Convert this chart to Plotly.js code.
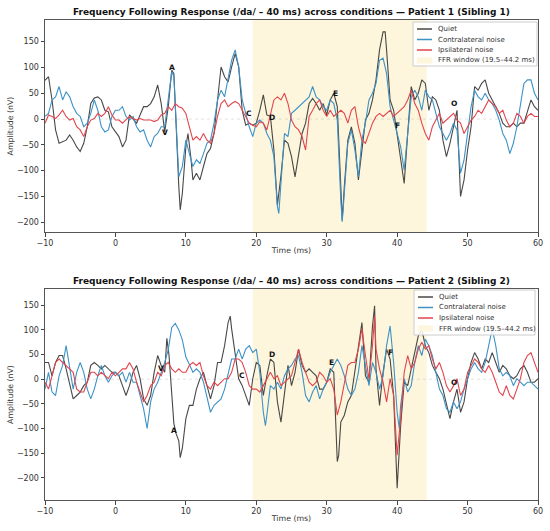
<!DOCTYPE html>
<html>
<head>
<meta charset="utf-8">
<script src="https://cdn.plot.ly/plotly-3.0.1.min.js"></script>
<style>html,body{margin:0;padding:0;background:#fff}#chart{width:550px;height:531px}</style>
</head>
<body>
<div id="chart"></div>
<script>
// ---------- Patient 1 ----------
const p1QuietT = [-10,-9.5,-9,-8.5,-8,-7.5,-7,-6.5,-6,-5.5,-5,-4.5,-4,-3.5,-3,-2.5,-2,-1.5,-1,-0.5,0,0.5,1,1.5,2,2.5,3,3.5,4,4.5,5,5.5,6,6.5,7,7.5,8,8.3,8.5,9,9.2,9.5,10,10.3,10.7,11,11.5,12,12.5,13,13.5,14,14.5,15,15.5,16,16.5,17,17.5,18,18.5,19,19.5,20,20.5,21,21.5,22,22.5,23,23.5,24,24.5,25,25.5,26,26.5,27,27.5,28,28.5,29,29.5,30,30.5,31,31.5,32,32.2,32.5,33,33.5,34,34.5,35,35.5,36,36.5,37,37.5,38,38.3,38.5,39,39.5,40,40.5,41,41.5,42,42.5,43,43.5,44,44.5,45,45.5,46,46.5,47,47.5,48,48.5,49,49.5,50,50.5,51,51.5,52,52.5,53,53.5,54,54.5,55,55.5,56,56.5,57,57.5,58,58.5,59,59.5,60];
const p1QuietV = [75,82,37,-21,-47,-44,-41,-31,-41,-54,-63,-47,-15,30,41,43,37,17,14,-15,-25,-34,-54,-41,8,1,-8,8,24,24,30,43,66,30,-25,24,95,88,17,-131,-176,-144,-54,-28,-73,-118,-105,-118,-92,-67,-57,-28,37,101,82,72,101,127,101,17,-12,-8,-12,-8,17,47,8,5,-60,-167,-110,-41,-47,-73,-112,-73,-28,-8,30,40,30,17,30,8,37,50,24,-131,-196,-131,-41,-15,-47,-118,-60,-2,11,37,76,134,169,169,134,37,17,-28,-73,-125,-28,63,37,50,76,69,17,43,37,17,-41,-73,-47,-15,17,-150,-118,-60,-15,63,56,69,76,50,37,24,11,-8,-15,-15,-8,-15,-8,-8,17,37,24,17];

const p1ContraT = [-10,-9.5,-9,-8.5,-8,-7.5,-7,-6.5,-6,-5.5,-5,-4.5,-4,-3.5,-3,-2.5,-2,-1.5,-1,-0.5,0,0.5,1,1.5,2,2.5,3,3.5,4,4.5,5,5.5,6,6.5,7,7.5,8,8.3,8.6,9,9.5,10,10.5,11,11.5,12,12.5,13,13.5,14,14.5,15,15.5,16,16.5,17,17.5,18,18.5,19,19.5,20,20.5,21,21.5,22,22.5,23,23.2,23.5,24,24.5,25,25.5,26,26.5,27,27.5,28,28.5,29,29.5,30,30.5,31,31.5,32,32.2,32.5,33,33.5,34,34.5,35,35.5,36,36.5,37,37.5,38,38.5,39,39.5,40,40.5,41,41.5,42,42.5,43,43.5,44,44.5,45,45.5,46,46.5,47,47.5,48,48.5,49,49.5,50,50.5,51,51.5,52,52.5,53,53.5,54,54.5,55,55.5,56,56.5,57,57.5,58,58.5,59,59.5,60];
const p1ContraV = [5,11,37,43,63,37,53,43,24,11,5,-15,-8,11,37,17,-15,-25,-21,5,17,17,24,5,-2,5,-15,-25,-21,-41,-54,-34,-28,-15,-15,37,92,82,-15,-112,-92,-41,-67,-92,-79,-86,-67,-47,-41,-8,37,56,43,76,114,134,101,37,11,-15,-34,-8,-2,-8,-28,-41,-73,-170,-183,-131,-28,-34,11,17,24,30,37,43,63,43,37,24,17,37,30,-2,-157,-199,-144,-47,-21,-60,-112,-41,-8,37,50,69,114,118,88,24,-2,-28,-54,-99,-28,43,56,43,17,56,43,37,11,-15,-28,-41,-28,-8,-21,-105,-79,-28,24,56,43,37,50,37,30,17,-2,-28,-41,-67,-47,-15,24,69,76,76,50,37];

const p1IpsiT = [-10,-9.5,-9,-8.5,-8,-7.5,-7,-6.5,-6,-5.5,-5,-4.5,-4,-3.5,-3,-2.5,-2,-1.5,-1,-0.5,0,0.5,1,1.5,2,2.5,3,3.5,4,4.5,5,5.5,6,6.5,7,7.5,8,8.5,9,9.5,10,10.5,11,11.5,12,12.5,13,13.5,14,14.5,15,15.5,16,16.5,17,17.5,18,18.5,19,19.5,20,20.5,21,21.5,22,22.5,23,23.5,24,24.5,25,25.5,26,26.5,27,27.5,28,28.5,29,29.5,30,30.5,31,31.5,32,32.5,33,33.5,34,34.5,35,35.5,36,36.5,37,37.5,38,38.5,39,39.5,40,40.5,41,41.5,42,42.5,43,43.5,44,44.5,45,45.5,46,46.5,47,47.5,48,48.5,49,49.5,50,50.5,51,51.5,52,52.5,53,53.5,54,54.5,55,55.5,56,56.5,57,57.5,58,58.5,59,59.5,60];
const p1IpsiV = [-8,8,5,1,8,17,5,-2,1,-15,-21,-34,-15,-2,1,11,5,11,24,8,-2,-2,-8,-2,5,1,-2,1,-2,-2,-2,-5,-2,8,11,24,17,30,24,21,11,-15,-41,-34,-41,-28,-41,-47,-28,5,30,37,24,30,34,30,17,5,-8,-12,-15,-5,-8,-21,11,37,43,37,50,30,-2,-15,-21,-34,-60,5,17,30,37,17,5,17,5,11,17,11,-8,17,24,-15,-41,-47,-28,-8,5,11,5,11,17,5,11,17,24,37,56,30,17,-8,-28,-41,-15,-2,11,-8,-2,5,11,-2,-8,-28,-15,-2,5,17,11,24,37,30,24,11,17,-2,-15,-8,11,5,-8,5,11,5,5];

const p1LabelText = ["A","V","C","D","E","F","O"];
const p1LabelX = [8.0,7.1,19.0,22.3,31.3,40.1,48.1];
const p1LabelY = [100,-26,10,3,50,-12,31];

// ---------- Patient 2 ----------
const p2QuietT = [-10,-9.5,-9,-8.5,-8,-7.5,-7,-6.5,-6,-5.5,-5,-4.5,-4,-3.5,-3,-2.5,-2,-1.5,-1,-0.5,0,0.5,1,1.5,2,2.5,3,3.5,4,4.5,5,5.5,6,6.5,7,7.3,7.6,8,8.3,8.6,9,9.2,9.5,10,10.5,11,11.5,12,12.5,13,13.5,14,14.5,15,15.5,16,16.3,16.5,17,17.5,18,18.5,19,19.5,20,20.5,21,21.5,22,22.5,23,23.5,24,24.5,25,25.5,26,26.5,27,27.5,28,28.5,29,29.5,30,30.5,31,31.5,31.7,32,32.5,33,33.5,34,34.5,35,35.5,36,36.5,36.8,37,37.5,38,38.5,39,39.5,40,40.5,41,41.5,42,42.5,43,43.5,44,44.5,45,45.5,46,46.5,47,47.5,48,48.5,49,49.5,50,50.5,51,51.5,52,52.5,53,53.5,54,54.5,55,55.5,56,56.5,57,57.5,58,58.5,59,59.5,60];
const p2QuietV = [34,34,7,34,48,48,21,-13,-40,-33,-26,-13,-6,28,34,28,21,28,21,14,14,7,-13,-33,-13,14,28,1,-40,-53,-33,14,48,28,14,83,50,-30,-90,-110,-125,-159,-140,-80,-53,-53,-20,1,14,-13,-40,-13,34,34,68,115,128,102,48,1,-13,-33,-53,1,34,28,-33,7,41,34,-46,-87,-33,28,-13,14,61,28,14,21,14,7,-20,-20,-6,21,14,-167,-154,-87,-73,-46,-33,14,68,115,7,-6,108,149,21,-53,14,61,41,-33,-221,-94,-6,-13,21,54,88,101,68,54,28,14,1,-20,-53,-80,-46,-20,-67,-46,1,34,54,41,21,41,34,54,34,14,28,21,7,1,7,21,28,14,-6,-6,1];

const p2ContraT = [-10,-9.5,-9,-8.5,-8,-7.5,-7,-6.5,-6,-5.5,-5,-4.5,-4,-3.5,-3,-2.5,-2,-1.5,-1,-0.5,0,0.5,1,1.5,2,2.5,3,3.5,4,4.5,5,5.5,6,6.5,7,7.5,8,8.5,9,9.5,10,10.5,11,11.5,12,12.5,13,13.5,14,14.5,15,15.5,16,16.5,17,17.5,18,18.5,19,19.5,20,20.5,21,21.3,21.5,22,22.5,23,23.5,24,24.5,25,25.5,26,26.5,27,27.5,28,28.5,29,29.5,30,30.5,31,31.5,32,32.5,33,33.5,34,34.5,35,35.5,36,36.5,37,37.5,38,38.5,39,39.5,40,40.3,40.5,41,41.5,42,42.5,43,43.5,44,44.5,45,45.5,46,46.5,47,47.5,48,48.5,49,49.5,50,50.5,51,51.5,52,52.5,53,53.5,54,54.5,55,55.5,56,56.5,57,57.5,58,58.5,59,59.5,60];
const p2ContraV = [-20,14,-26,-33,7,28,68,21,-20,14,34,14,-20,-40,-20,7,28,7,-6,7,14,7,14,-6,14,-6,-6,-33,-60,-100,-46,-20,-6,14,34,60,105,113,100,80,45,30,14,21,14,-6,-40,-67,-53,-46,-40,-20,14,41,41,61,41,61,68,54,61,14,-67,-94,-73,-13,-20,-6,-20,7,21,28,41,48,14,-33,-46,-26,-13,-40,-20,-6,14,28,41,28,7,-20,-33,-20,14,68,28,-13,34,14,-20,7,68,108,34,-67,-100,-53,1,-26,-13,34,68,48,81,68,48,14,-20,-33,-60,-67,-46,-60,-46,-20,1,21,34,21,14,34,68,102,68,21,7,14,7,-13,1,-6,-13,-6,-6,-13,-20];

const p2IpsiT = [-10,-9.5,-9,-8.5,-8,-7.5,-7,-6.5,-6,-5.5,-5,-4.5,-4,-3.5,-3,-2.5,-2,-1.5,-1,-0.5,0,0.5,1,1.5,2,2.5,3,3.5,4,4.5,5,5.5,6,6.5,7,7.5,8,8.5,9,9.5,10,10.5,11,11.5,12,12.5,13,13.5,14,14.5,15,15.5,16,16.5,17,17.5,18,18.5,19,19.5,20,20.5,21,21.5,22,22.5,23,23.5,24,24.5,25,25.5,26,26.5,27,27.5,28,28.5,29,29.5,30,30.5,31,31.5,32,32.5,33,33.5,34,34.5,35,35.5,36,36.5,36.8,37,37.5,38,38.5,39,39.5,40,40.5,41,41.5,42,42.5,43,43.5,44,44.5,45,45.5,46,46.5,47,47.5,48,48.5,49,49.5,50,50.5,51,51.5,52,52.5,53,53.5,54,54.5,55,55.5,56,56.5,57,57.5,58,58.5,59,59.5,60];
const p2IpsiV = [-6,-20,7,34,41,34,28,21,14,-20,-26,-26,-6,14,14,7,14,7,1,14,7,14,21,21,34,21,-6,-26,-46,-33,-13,-6,14,7,28,34,21,14,21,14,14,28,34,28,34,7,-13,-20,-6,-13,-6,1,1,14,41,41,34,14,-13,-20,-20,-26,-13,1,14,1,7,-13,-6,1,7,34,61,34,14,-6,-13,-6,14,7,-6,1,-20,-73,-46,-6,28,34,34,61,102,48,1,68,128,61,21,-6,-46,1,-33,-154,-80,14,48,21,34,61,75,61,68,41,21,34,14,-13,-26,-13,1,-33,-20,14,28,41,34,21,14,28,14,-6,-26,-33,-13,-33,-40,-20,1,34,48,54,34,14];

const p2LabelText = ["V","A","C","D","E","F","O"];
const p2LabelX = [6.5,8.3,18.0,22.3,30.7,39.1,48.1];
const p2LabelY = [22,-105,8,51,34,55,-7];

const seriesNames = ["Quiet","Contralateral noise","Ipsilateral noise"];
const windowName = "FFR window (19.5–44.2 ms)";
const windowStart = 19.5, windowEnd = 44.2;
const xTicks = [-10,0,10,20,30,40,50,60];
const yTicks = [-200,-150,-100,-50,0,50,100,150];
const titles = [
  "Frequency Following Response (/da/ – 40 ms) across conditions — Patient 1 (Sibling 1)",
  "Frequency Following Response (/da/ – 40 ms) across conditions — Patient 2 (Sibling 2)"
];

const colors = ["rgba(40,40,40,0.85)","#3d92c6","#e2454d"];
const windowColor = "#fdf6dd";
const FONT = "DejaVu Sans, Arial, sans-serif";

// layout geometry (pixels of the 550x531 figure)
const ML = 45, MR = 12, MT = 20, MB = 31, W = 550, H = 531;
const PW = W - ML - MR, PH = H - MT - MB;
const pxX = x => (x - ML) / PW;
const pxY = y => (H - MB - y) / PH;

function mk(t, v, i, xa, ya){
  return {x:t, y:v, type:"scatter", mode:"lines", name:seriesNames[i],
    line:{color:colors[i], width:1.1}, xaxis:xa, yaxis:ya, showlegend:false};
}
const data = [
  mk(p1QuietT,p1QuietV,0,"x","y"),
  mk(p1ContraT,p1ContraV,1,"x","y"),
  mk(p1IpsiT,p1IpsiV,2,"x","y"),
  mk(p2QuietT,p2QuietV,0,"x2","y2"),
  mk(p2ContraT,p2ContraV,1,"x2","y2"),
  mk(p2IpsiT,p2IpsiV,2,"x2","y2")
];

function axX(anchor){
  return {domain:[0,1], anchor:anchor, range:[-10,60], tickvals:xTicks, ticks:"outside", ticklen:3.5, tickcolor:"#444",
    showline:true, mirror:true, linecolor:"#555", linewidth:1, showgrid:false, zeroline:false,
    tickfont:{size:8,color:"#333",family:FONT},
    title:{text:"Time (ms)", font:{size:7.8,color:"#333",family:FONT}, standoff:0}};
}
function axY(anchor, dom, rng){
  return {domain:dom, anchor:anchor, range:rng, tickvals:yTicks, ticks:"outside", ticklen:3.5, tickcolor:"#444",
    showline:true, mirror:true, linecolor:"#555", linewidth:1, showgrid:false, zeroline:false,
    tickfont:{size:8,color:"#333",family:FONT},
    title:{text:"Amplitude (nV)", font:{size:7.8,color:"#333",family:FONT}, standoff:2}};
}

const shapes = [];
const annotations = [];
[["x","y"],["x2","y2"]].forEach(function(a){
  shapes.push({type:"rect", xref:a[0], yref:a[1]+" domain", x0:windowStart, x1:windowEnd, y0:0, y1:1,
    fillcolor:windowColor, line:{width:0}, layer:"below"});
  shapes.push({type:"line", xref:a[0]+" domain", yref:a[1], x0:0, x1:1, y0:0, y1:0,
    line:{color:"rgba(150,150,150,0.35)", width:0.8, dash:"dot"}, layer:"below"});
});

// custom compact legends (matplotlib style)
function addLegend(box, rowYs){
  shapes.push({type:"rect", xref:"paper", yref:"paper", x0:pxX(box[0]), x1:pxX(box[2]), y0:pxY(box[3]), y1:pxY(box[1]),
    fillcolor:"rgba(255,255,255,0.85)", line:{color:"#cccccc", width:1}, layer:"above"});
  const lx0 = box[0] + 4, lx1 = box[0] + 19, tx = box[0] + 23;
  for (let i = 0; i < 4; i++){
    const y = rowYs[i];
    if (i < 3){
      shapes.push({type:"line", xref:"paper", yref:"paper", x0:pxX(lx0), x1:pxX(lx1), y0:pxY(y), y1:pxY(y),
        line:{color:colors[i], width:1.5}, layer:"above"});
    } else {
      shapes.push({type:"rect", xref:"paper", yref:"paper", x0:pxX(lx0), x1:pxX(lx1), y0:pxY(y+3), y1:pxY(y-3),
        fillcolor:windowColor, line:{width:0}, layer:"above"});
    }
    annotations.push({xref:"paper", yref:"paper", x:pxX(tx), y:pxY(y), xanchor:"left", yanchor:"middle",
      text: i < 3 ? seriesNames[i] : windowName, showarrow:false, font:{size:7,color:"#333",family:FONT}});
  }
}
addLegend([413,22,537,66],[29,39.5,50,60.5]);
addLegend([414,290,535,335],[297,307.5,318,328.5]);

function addLabels(txt, xs, ys, xa, ya){
  for (let i=0;i<txt.length;i++){
    annotations.push({x:xs[i], y:ys[i], xref:xa, yref:ya, text:"<b>"+txt[i]+"</b>", showarrow:false,
      font:{size:7.5,color:"#111",family:FONT}});
  }
}
addLabels(p1LabelText,p1LabelX,p1LabelY,"x","y");
addLabels(p2LabelText,p2LabelX,p2LabelY,"x2","y2");
annotations.push({xref:"paper", yref:"paper", x:0.5, y:pxY(12), text:"<b>"+titles[0]+"</b>", showarrow:false,
  font:{size:9,color:"#111",family:FONT}, yanchor:"middle"});
annotations.push({xref:"paper", yref:"paper", x:0.5, y:pxY(281), text:"<b>"+titles[1]+"</b>", showarrow:false,
  font:{size:9,color:"#111",family:FONT}, yanchor:"middle"});

const layout = {
  width:W, height:H,
  margin:{l:ML, r:MR, t:MT, b:MB},
  paper_bgcolor:"#fff", plot_bgcolor:"#fff",
  font:{family:FONT}, showlegend:false,
  xaxis:axX("y"), yaxis:axY("x",[pxY(232),1],[-219,192]),
  xaxis2:axX("y2"), yaxis2:axY("x2",[0,pxY(289)],[-245,183]),
  shapes:shapes, annotations:annotations
};

Plotly.newPlot("chart", data, layout, {displayModeBar:false, staticPlot:true});
</script>
</body>
</html>
